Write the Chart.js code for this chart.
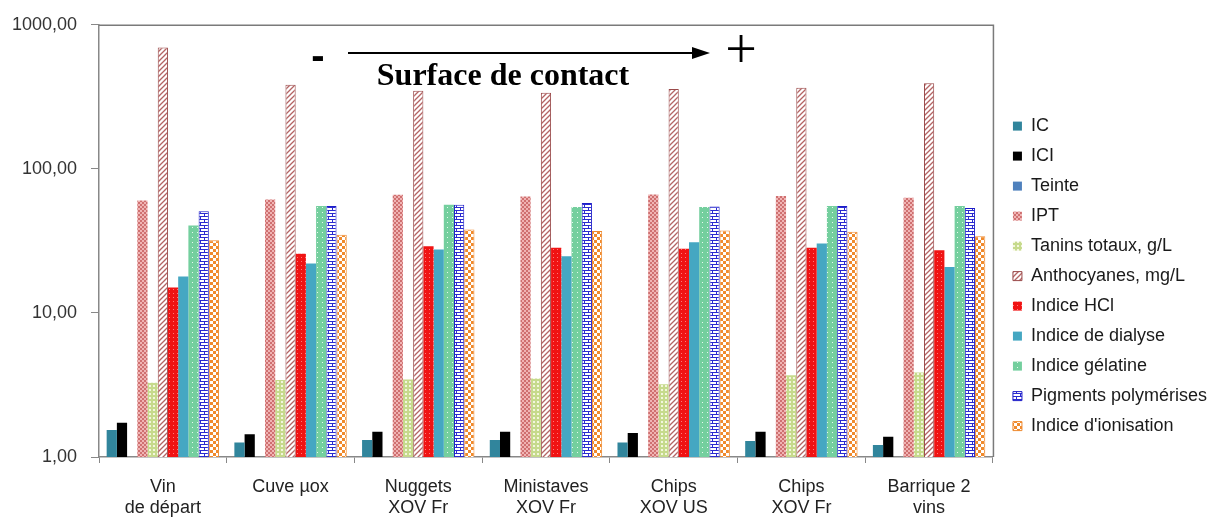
<!DOCTYPE html>
<html>
<head>
<meta charset="utf-8">
<script src="https://cdn.jsdelivr.net/npm/chart.js@4/dist/chart.umd.min.js"></script>
<style>
  html, body { margin: 0; padding: 0; background: #fff; }
  #wrap { width: 1209px; height: 521px; }
</style>
</head>
<body>
<div id="wrap"><canvas id="chart"></canvas></div>
<script>
const categories = [["Vin", "de départ"], "Cuve µox", ["Nuggets", "XOV Fr"], ["Ministaves", "XOV Fr"], ["Chips", "XOV US"], ["Chips", "XOV Fr"], ["Barrique 2", "vins"]]
const yTicks = [1, 10, 100, 1000]

const ic = [1.54, 1.26, 1.31, 1.31, 1.26, 1.29, 1.21]
const ici = [1.73, 1.44, 1.50, 1.50, 1.47, 1.50, 1.38]
const teinte = [0.62, 0.60, 0.61, 0.61, 0.60, 0.61, 0.60]
const ipt = [60.4, 61.2, 66.1, 64.4, 66.5, 64.7, 63.0]
const tanins = [3.27, 3.42, 3.45, 3.51, 3.20, 3.70, 3.86]
const anthocyanes = [697, 383, 349, 337, 359, 365, 393]
const indiceHcl = [15.0, 25.8, 29.0, 28.4, 27.9, 28.4, 27.2]
const indiceDialyse = [17.9, 22.0, 27.6, 24.7, 31.0, 30.3, 20.8]
const indiceGelatine = [40.5, 55.2, 56.4, 54.3, 54.3, 55.2, 55.2]
const pigments = [50.7, 55.2, 56.4, 57.9, 54.9, 55.2, 53.4]
const ionisation = [31.9, 34.9, 38.0, 37.0, 37.4, 36.6, 34.0]

const chartCanvas = document.getElementById("chart")
const helperCtx = document.createElement("canvas").getContext("2d")

function makePattern(w, h, draw) {
  const c = document.createElement("canvas")
  c.width = w
  c.height = h
  draw(c.getContext("2d"))
  return helperCtx.createPattern(c, "repeat")
}

const iptFill = makePattern(4, 4, (x) => {
  x.fillStyle = "#f0b4b4"; x.fillRect(0, 0, 4, 4)
  x.fillStyle = "#cf7070"; x.fillRect(0, 0, 2, 2); x.fillRect(2, 2, 2, 2)
})
const taninsFill = makePattern(4, 4, (x) => {
  x.fillStyle = "#c6da8c"; x.fillRect(0, 0, 4, 4)
  x.fillStyle = "#f3f6dd"; x.fillRect(1, 1, 2, 2)
})
const anthoFill = makePattern(5, 5, (x) => {
  x.fillStyle = "#ffffff"; x.fillRect(0, 0, 5, 5)
  x.strokeStyle = "#b46464"; x.lineWidth = 1.3
  x.beginPath(); x.moveTo(0, 5); x.lineTo(5, 0)
  x.moveTo(-1, 1); x.lineTo(1, -1); x.moveTo(4, 6); x.lineTo(6, 4); x.stroke()
})
const hclFill = makePattern(4, 4, (x) => {
  x.fillStyle = "#f01313"; x.fillRect(0, 0, 4, 4)
  x.fillStyle = "#ff7a7a"; x.fillRect(1, 1, 1, 1)
})
const gelatineFill = makePattern(5, 5, (x) => {
  x.fillStyle = "#74cf9e"; x.fillRect(0, 0, 5, 5)
  x.fillStyle = "#e8f8ee"; x.fillRect(2, 2, 1, 1)
})
const pigmentsFill = makePattern(8, 6, (x) => {
  x.fillStyle = "#ffffff"; x.fillRect(0, 0, 8, 6)
  x.fillStyle = "#2a2ad0"
  x.fillRect(0, 0, 8, 1); x.fillRect(0, 3, 8, 1)
  x.fillRect(0, 0, 1, 3); x.fillRect(4, 3, 1, 3)
})
const ionisationFill = makePattern(6, 6, (x) => {
  x.fillStyle = "#ffffff"; x.fillRect(0, 0, 6, 6)
  x.fillStyle = "#f08a2c"; x.fillRect(0, 0, 3, 3); x.fillRect(3, 3, 3, 3)
})

const datasets = [
  { label: "IC", data: ic, backgroundColor: "#31859c" },
  { label: "ICI", data: ici, backgroundColor: "#000000" },
  { label: "Teinte", data: teinte, backgroundColor: "#4f81bd" },
  { label: "IPT", data: ipt, backgroundColor: iptFill },
  { label: "Tanins totaux, g/L", data: tanins, backgroundColor: taninsFill },
  { label: "Anthocyanes, mg/L", data: anthocyanes, backgroundColor: anthoFill, borderColor: "#9a4a4a", borderWidth: 1 },
  { label: "Indice HCl", data: indiceHcl, backgroundColor: hclFill },
  { label: "Indice de dialyse", data: indiceDialyse, backgroundColor: "#45a7c2" },
  { label: "Indice gélatine", data: indiceGelatine, backgroundColor: gelatineFill },
  { label: "Pigments polymérises", data: pigments, backgroundColor: pigmentsFill, borderColor: "#1c1cc8", borderWidth: 1 },
  { label: "Indice d'ionisation", data: ionisation, backgroundColor: ionisationFill, borderColor: "#ee8a30", borderWidth: 1 }
].map((d) => Object.assign({ borderWidth: 0, clip: 0, categoryPercentage: 0.88, barPercentage: 1 }, d))

// frame round the plot + the "surface de contact" arrow
const annotations = {
  id: "annotations",
  afterLayout(chart) {
    // legend sits a bit further from the plot in the original
    chart.legend.left += 8
    chart.legend.right += 8
  },
  beforeDatasetsDraw(chart) {
    const { ctx, chartArea } = chart
    ctx.save()
    ctx.strokeStyle = "#7a7a7a"
    ctx.lineWidth = 1.5
    ctx.beginPath()
    ctx.moveTo(chartArea.left, chartArea.top + 0.5)
    ctx.lineTo(chartArea.right + 0.5, chartArea.top + 0.5)
    ctx.lineTo(chartArea.right + 0.5, chartArea.bottom)
    ctx.stroke()
    ctx.restore()
  },
  afterDraw(chart) {
    const ctx = chart.ctx
    ctx.save()
    ctx.fillStyle = "#000"
    ctx.strokeStyle = "#000"
    ctx.font = "bold 40px 'Liberation Sans'"
    ctx.textAlign = "center"
    ctx.textBaseline = "middle"
    ctx.fillText("-", 318, 58)
    ctx.lineWidth = 2
    ctx.beginPath()
    ctx.moveTo(348, 53)
    ctx.lineTo(696, 53)
    ctx.stroke()
    ctx.beginPath()
    ctx.moveTo(710, 53)
    ctx.lineTo(692, 47)
    ctx.lineTo(692, 59)
    ctx.closePath()
    ctx.fill()
    ctx.font = "56px 'Liberation Serif'"
    ctx.fillText("+", 741, 53)
    ctx.font = "bold 32px 'Liberation Serif'"
    ctx.textBaseline = "alphabetic"
    ctx.fillText("Surface de contact", 503, 85)
    ctx.restore()
  }
}

const config = {
  type: "bar",
  data: { labels: categories, datasets: datasets },
  options: {
    responsive: true,
    maintainAspectRatio: false,
    animation: false,
    layout: { padding: { top: 24, left: 12, right: 0, bottom: 2 } },
    plugins: {
      legend: {
        position: "right",
        title: { display: true, text: " ", font: { size: 1 }, padding: 4 },
        labels: {
          boxWidth: 9,
          boxHeight: 9,
          padding: 12,
          color: "#1a1a1a",
          font: { family: "'Liberation Sans', Arial", size: 18 }
        }
      },
      tooltip: { enabled: false }
    },
    scales: {
      x: {
        afterFit(scale) { scale.height = 62 },
        grid: { display: true, drawOnChartArea: false, offset: true, tickLength: 6, color: "#888" },
        border: { color: "#888", width: 1.5 },
        ticks: { color: "#222", padding: 13, maxRotation: 0, font: { family: "'Liberation Sans', Arial", size: 18, lineHeight: 1.2 } }
      },
      y: {
        type: "logarithmic",
        min: 1,
        max: 1000,
        afterBuildTicks(scale) {
          scale.ticks = yTicks.map((v) => ({ value: v }))
        },
        afterFit(scale) { scale.width = 87 },
        grid: { display: true, drawOnChartArea: false, tickLength: 8, color: "#888" },
        border: { color: "#888", width: 1.5 },
        ticks: {
          color: "#333",
          padding: 14,
          font: { family: "'Liberation Sans', Arial", size: 18 },
          callback: (v) => Number(v).toFixed(2).replace(".", ",")
        }
      }
    }
  },
  plugins: [annotations]
}

const myChart = new Chart(chartCanvas, config)
</script>
</body>
</html>
